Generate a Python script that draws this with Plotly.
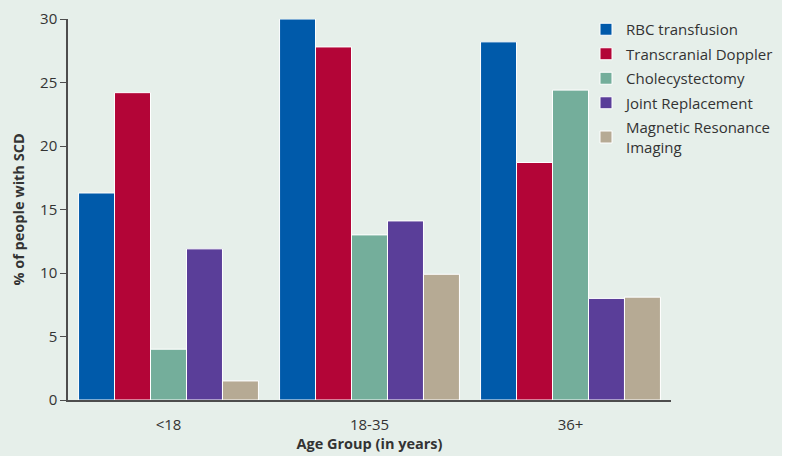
import plotly.graph_objects as go

categories = ["<18", "18-35", "36+"]
series_names = ["RBC transfusion", "Transcranial Doppler", "Cholecystectomy",
                "Joint Replacement", "Magnetic Resonance<br>Imaging"]
rbc = [16.3, 30.0, 28.2]
tcd = [24.2, 27.8, 18.7]
chole = [4.0, 13.0, 24.4]
joint = [11.9, 14.1, 8.0]
mri = [1.5, 9.9, 8.1]
values = [rbc, tcd, chole, joint, mri]
colors = ["#005aaa", "#b30537", "#74ae9b", "#5a3e99", "#b6aa94"]
y_ticks = [0, 5, 10, 15, 20, 25, 30]

BG = "#e6efea"
FONT = "Open Sans"

fig = go.Figure()
for i, (name, vals, col) in enumerate(zip(series_names, values, colors)):
    fig.add_trace(go.Bar(x=categories, y=vals, name=name, legendgroup=f"g{i}",
                         marker=dict(color=col, line=dict(color="white", width=1))))

L, R, T, B = 68, 120, 19, 56
W, H = 791, 456
pw, ph = W - L - R, H - T - B
fig.add_shape(type="rect", xref="paper", yref="paper", layer="below",
              x0=-L / pw, x1=(782 - L) / pw, y0=-B / ph, y1=1 + T / ph,
              fillcolor=BG, line=dict(width=0))

fig.update_layout(
    width=W, height=H,
    margin=dict(l=L, r=R, t=T, b=B, pad=0, autoexpand=False),
    paper_bgcolor="white", plot_bgcolor=BG,
    barmode="group", bargap=0.105, bargroupgap=0,
    font=dict(family=FONT, size=15, color="#333333"),
    showlegend=True,
    legend=dict(x=(586 - L) / pw, y=1 + 6 / ph, xanchor="left", yanchor="top",
                bgcolor="rgba(0,0,0,0)", font=dict(size=15, color="#333333"),
                tracegroupgap=2, itemwidth=30),
    xaxis=dict(showline=True, linecolor="#4d4d4d", linewidth=1.5, ticks="",
               showgrid=False, range=[-0.5, 2.5], ticklabelstandoff=10,
               automargin=False,
               title=dict(text="<b>Age Group (in years)</b>", standoff=6,
                          font=dict(size=14.5, color="#333333")),
               tickfont=dict(size=15)),
    yaxis=dict(showline=True, linecolor="#4d4d4d", linewidth=1.5, ticks="outside",
               ticklen=6, tickcolor="#4d4d4d", showgrid=False, zeroline=False,
               range=[0, 30], tickvals=y_ticks, automargin=False,
               title=dict(text="<b>% of people with SCD</b>", standoff=12,
                          font=dict(size=14.5, color="#333333")),
               tickfont=dict(size=15)),
)

fig.write_html("out.html", config={"displayModeBar": False},
               post_script="document.body.style.margin='0';")
